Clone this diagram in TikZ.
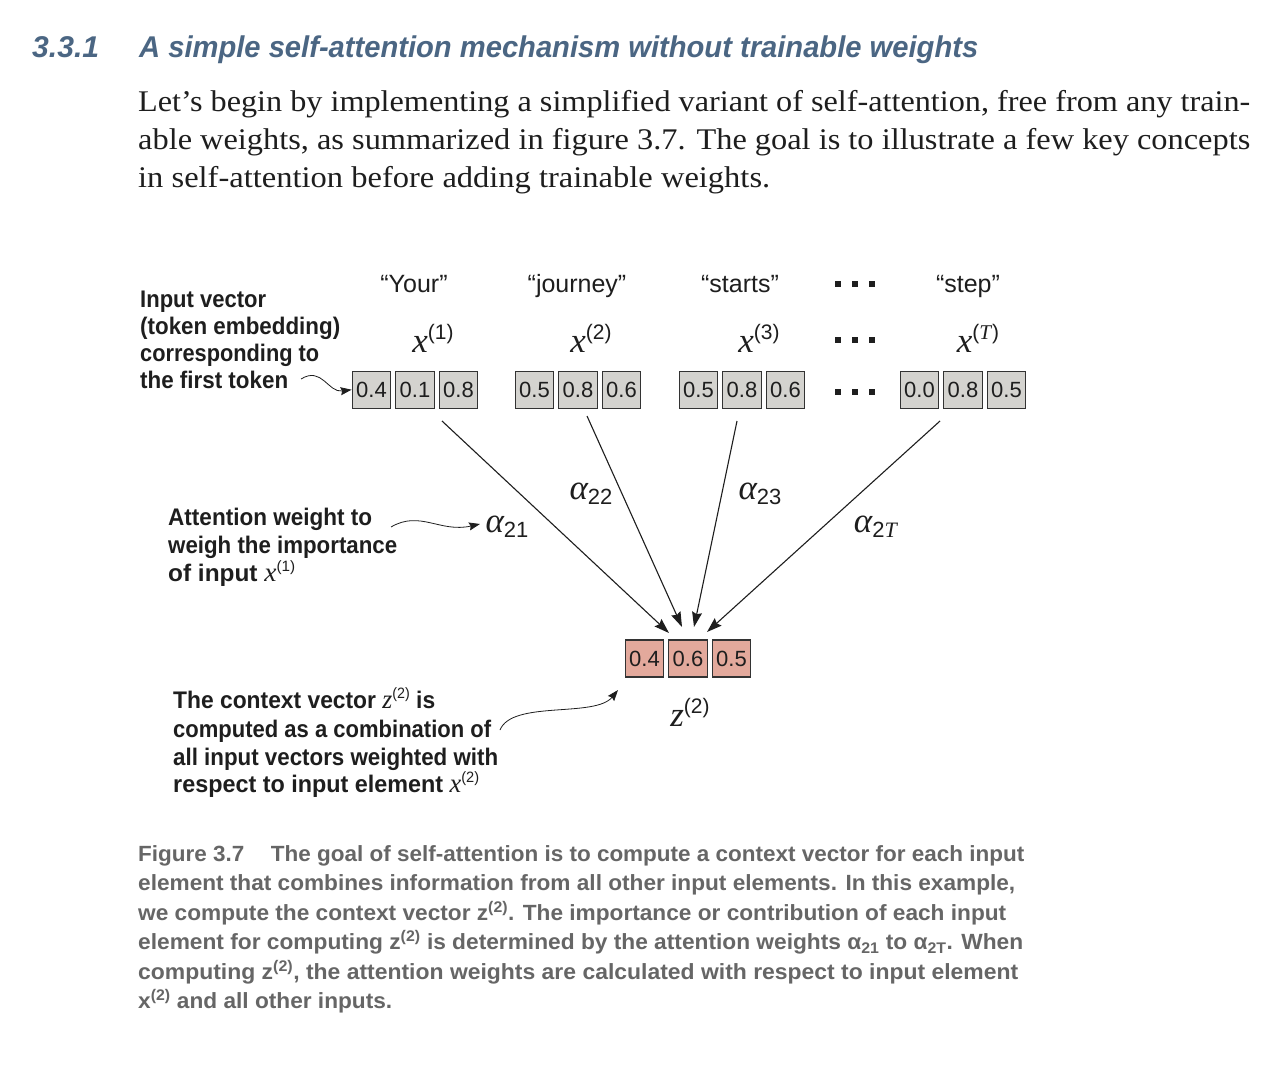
\documentclass[tikz,border=0pt]{standalone}
\usepackage{fontspec}
\usepackage{graphicx}
\setmainfont{Liberation Serif}
\newfontfamily\hsans{Liberation Sans}
\usetikzlibrary{arrows.meta}
\definecolor{hdr}{HTML}{4B6683}
\definecolor{capgray}{HTML}{666666}
\definecolor{boxgray}{HTML}{D4D3CF}
\definecolor{boxpink}{HTML}{E3A99C}
\definecolor{edge}{HTML}{333333}
\definecolor{ink}{HTML}{1E1E1E}
\newcommand\fitw[2]{\resizebox{#1}{\height}{#2}}
\newcommand\fs[1]{\fontsize{#1}{#1}\selectfont}
% vector label x^(k)
\newcommand\vx[2]{{\rmfamily\fs{35}\itshape #1}{\hsans\fs{21}\raisebox{13pt}{#2}}}
% alpha with subscript
\newcommand\va[1]{{\rmfamily\fs{35}\itshape α}{\hsans\fs{22}\raisebox{-5pt}{#1}}}
% inline math in annotations
\newcommand\ax[2]{{\rmfamily\mdseries\fs{27}\itshape #1}{\hsans\mdseries\fs{15}\raisebox{10pt}{#2}}}
\tikzset{
  vbox/.style={draw=edge, line width=1.3pt, fill=boxgray, minimum width=38.5pt,
    minimum height=37pt, inner sep=0pt, font=\hsans\fs{22}, text=ink},
  zbox/.style={vbox, fill=boxpink},
  tok/.style={font=\hsans\fs{25}, anchor=base, inner sep=0pt, text=ink},
  lab/.style={anchor=base, inner sep=0pt, text=ink},
  txt/.style={anchor=base west, inner sep=0pt, text=ink},
  ann/.style={txt, font=\hsans\bfseries\fs{24}},
  capt/.style={anchor=base west, inner sep=0pt, text=capgray, font=\hsans\bfseries\fs{22}},
  dot/.style={fill=ink, minimum size=6pt, inner sep=0pt},
  conn/.style={draw=ink, line width=1.1pt, -{Stealth[length=15pt,width=10pt,inset=2pt]}},
  curvy/.style={draw=ink, line width=0.8pt, -{Stealth[length=11pt,width=8pt,inset=1.5pt]}},
}
\begin{document}
\begin{tikzpicture}[x=1pt,y=-1pt]
\useasboundingbox[fill=white] (0,0) rectangle (1268,1076);

% header
\node[anchor=base west, inner sep=0pt, text=hdr, font=\hsans\bfseries\itshape\fs{30}] (hnum) at (32,57) {\fitw{67pt}{3.3.1}};
\node[anchor=base west, inner sep=0pt, text=hdr, font=\hsans\bfseries\itshape\fs{30}] (htitle) at (139,57) {\fitw{839pt}{A simple self-attention mechanism without trainable weights}};

% paragraph
\node[txt, font=\fs{30}] (p1) at (138,111) {\fitw{1112pt}{Let’s begin by implementing a simplified variant of self-attention, free from any train-}};
\node[txt, font=\fs{30}] (p2) at (138,149) {\fitw{1112pt}{able weights, as summarized in figure 3.7. The goal is to illustrate a few key concepts}};
\node[txt, font=\fs{30}] (p3) at (138,187) {\fitw{632pt}{in self-attention before adding trainable weights.}};

% tokens
\node[tok] (t1) at (414,292) {“Your”};
\node[tok] (t2) at (577,292) {“journey”};
\node[tok] (t3) at (740,292) {“starts”};
\node[tok] (tT) at (968,292) {“step”};

% vector labels
\node[lab] (x1) at (433,352) {\vx{x}{(1)}};
\node[lab] (x2) at (591,352) {\vx{x}{(2)}};
\node[lab] (x3) at (759,352) {\vx{x}{(3)}};
\node[lab] (xT) at (978,352) {\vx{x}{(\textit{\rmfamily T})}};

% dots
\foreach \r/\yy in {1/284,2/340,3/392}{
  \node[dot] (d\r a) at (838,\yy) {};
  \node[dot] (d\r b) at (855,\yy) {};
  \node[dot] (d\r c) at (872,\yy) {};
}

% input vectors
\node[vbox] (b11) at (371.5,389.7) {0.4};
\node[vbox] (b12) at (415,389.7) {0.1};
\node[vbox] (b13) at (458.5,389.7) {0.8};
\node[vbox] (b21) at (534.5,389.7) {0.5};
\node[vbox] (b22) at (578,389.7) {0.8};
\node[vbox] (b23) at (621.5,389.7) {0.6};
\node[vbox] (b31) at (698.5,389.7) {0.5};
\node[vbox] (b32) at (742,389.7) {0.8};
\node[vbox] (b33) at (785.5,389.7) {0.6};
\node[vbox] (bT1) at (919.5,389.7) {0.0};
\node[vbox] (bT2) at (963,389.7) {0.8};
\node[vbox] (bT3) at (1006.5,389.7) {0.5};

% context vector
\node[zbox] (z1) at (644.5,658.5) {0.4};
\node[zbox] (z2) at (688,658.5) {0.6};
\node[zbox] (z3) at (731.5,658.5) {0.5};
\node[lab] (zl) at (690,726) {\vx{z}{(2)}};

% connector end points
\coordinate (s1) at (442,421);
\coordinate (s2) at (587,416);
\coordinate (s3) at (737,421);
\coordinate (s4) at (940,421);
\coordinate (e1) at (669,633);
\coordinate (e2) at (682,627);
\coordinate (e3) at (694,627);
\coordinate (e4) at (707,632);
\draw[conn] (s1) -- (e1);
\draw[conn] (s2) -- (e2);
\draw[conn] (s3) -- (e3);
\draw[conn] (s4) -- (e4);

% alpha labels
\node[lab] (a21) at (507,532) {\va{21}};
\node[lab] (a22) at (591,499) {\va{22}};
\node[lab] (a23) at (760,499) {\va{23}};
\node[lab] (a2T) at (876,532) {\va{2\textit{\rmfamily T}}};

% annotations
\node[ann] (i1) at (140,307) {\fitw{126pt}{Input vector}};
\node[ann] (i2) at (140,334) {\fitw{200pt}{(token embedding)}};
\node[ann] (i3) at (140,361) {\fitw{179pt}{corresponding to}};
\node[ann] (i4) at (140,388) {\fitw{148pt}{the first token}};
\coordinate (c1s) at (301,379);
\draw[curvy] (c1s) .. controls (322,366) and (328,393) .. (b11.west);

\node[ann] (w1) at (168,525) {\fitw{204pt}{Attention weight to}};
\node[ann] (w2) at (168,553) {\fitw{229pt}{weigh the importance}};
\node[ann] (w3) at (168,581) {\fitw{127pt}{of input \ax{x}{(1)}}};
\coordinate (c2s) at (391,527);
\coordinate (c2e) at (480,524);
\draw[curvy] (c2s) .. controls (420,510) and (440,533) .. (c2e);

\node[ann] (k1) at (173,708) {\fitw{262pt}{The context vector \ax{z}{(2)} is}};
\node[ann] (k2) at (173,737) {\fitw{318pt}{computed as a combination of}};
\node[ann] (k3) at (173,765) {\fitw{325pt}{all input vectors weighted with}};
\node[ann] (k4) at (173,792) {\fitw{306pt}{respect to input element \ax{x}{(2)}}};
\coordinate (c3s) at (500,730);
\coordinate (c3e) at (618,690);
\draw[curvy] (c3s) .. controls (512,700) and (595,718) .. (c3e);

% caption
\node[capt] (f1) at (138,861) {\fitw{886pt}{Figure 3.7\hspace{26pt}The goal of self-attention is to compute a context vector for each input}};
\node[capt] (f2) at (138,890.5) {\fitw{877pt}{element that combines information from all other input elements. In this example,}};
\node[capt] (f3) at (138,920) {\fitw{868pt}{we compute the context vector z\textsuperscript{(2)}. The importance or contribution of each input}};
\node[capt] (f4) at (138,949.5) {\fitw{885pt}{element for computing z\textsuperscript{(2)} is determined by the attention weights α\textsubscript{21} to α\textsubscript{2T}. When}};
\node[capt] (f5) at (138,979) {\fitw{880pt}{computing z\textsuperscript{(2)}, the attention weights are calculated with respect to input element}};
\node[capt] (f6) at (138,1008.5) {\fitw{254pt}{x\textsuperscript{(2)} and all other inputs.}};
\end{tikzpicture}
\end{document}
